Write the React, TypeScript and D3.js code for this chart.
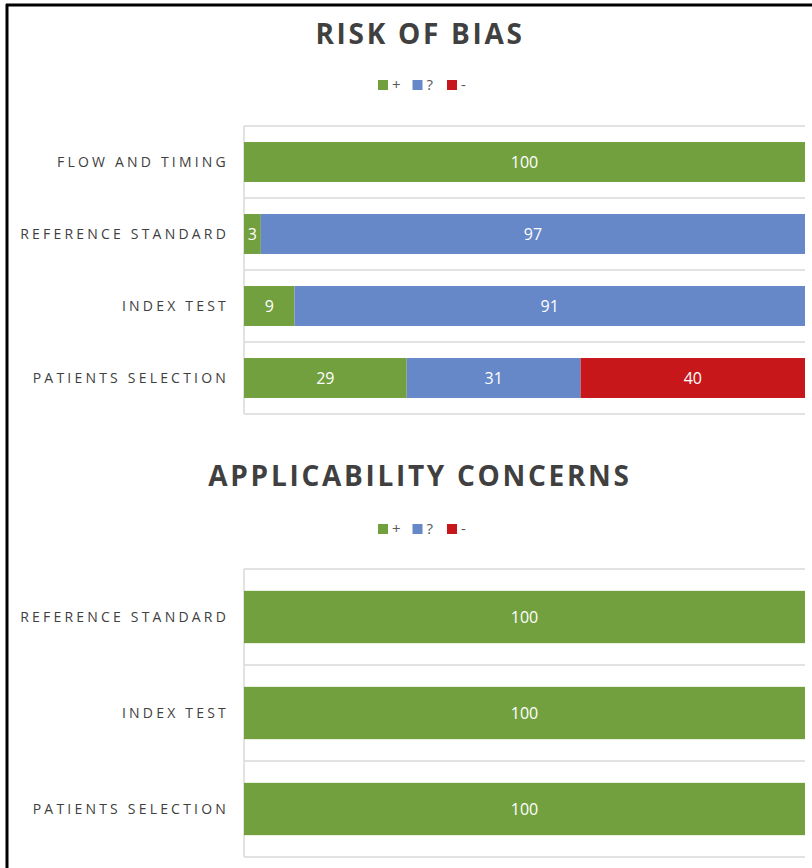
import React from 'react';
import * as d3 from 'd3';

const seriesKeys = ['+', '?', '-'];
const seriesColors = ['#73a03f', '#6687c8', '#c8171b'];

const biasCategories = ['FLOW AND TIMING', 'REFERENCE STANDARD', 'INDEX TEST', 'PATIENTS SELECTION'];
const biasPlus = [100, 3, 9, 29];
const biasUnclear = [0, 97, 91, 31];
const biasMinus = [0, 0, 0, 40];

const applCategories = ['REFERENCE STANDARD', 'INDEX TEST', 'PATIENTS SELECTION'];
const applPlus = [100, 100, 100];
const applUnclear = [0, 0, 0];
const applMinus = [0, 0, 0];

const W = 812;
const H = 868;
const plotLeft = 244;
const plotRight = 805;
const labelFont = "'Open Sans', sans-serif";

type PanelProps = {
  title: string;
  titleY: number;
  legendY: number;
  top: number;
  bottom: number;
  categories: string[];
  plus: number[];
  unclear: number[];
  minus: number[];
  padding: number;
};

function Panel(props: PanelProps) {
  const { title, titleY, legendY, top, bottom, categories, plus, unclear, minus, padding } = props;

  const rows = categories.map((c, i) => ({ cat: c, '+': plus[i], '?': unclear[i], '-': minus[i] }));
  const stacked = d3.stack<any>().keys(seriesKeys)(rows);

  const x = d3.scaleLinear().domain([0, 100]).range([plotLeft, plotRight]);
  const y = d3.scaleBand<string>()
    .domain(categories)
    .range([top, bottom])
    .paddingInner(padding)
    .paddingOuter(padding / 2);
  const color = d3.scaleOrdinal<string, string>().domain(seriesKeys).range(seriesColors);

  const step = y.step();
  const gridYs = d3.range(categories.length + 1).map((i) => top + i * step);

  // legend: square + label, evenly spaced
  const legendItems = seriesKeys.map((k, i) => ({ key: k, x0: 378 + i * 34.5 }));

  return (
    <g>
      <text x={420} y={titleY} textAnchor="middle" fontFamily={labelFont} fontWeight={700}
        fontSize={28} letterSpacing={2.7} fill="#404040">{title}</text>

      {legendItems.map((it) => (
        <g key={it.key}>
          <rect x={it.x0} y={legendY - 5} width={10} height={10} fill={color(it.key)} />
          <text x={it.x0 + 14} y={legendY} dy="0.35em" fontFamily={labelFont} fontSize={15}
            fill="#595959">{it.key}</text>
        </g>
      ))}

      {gridYs.map((gy, i) => (
        <line key={i} x1={plotLeft} x2={plotRight} y1={gy} y2={gy} stroke="#d9d9d9" strokeWidth={1.5} />
      ))}
      <line x1={plotLeft} x2={plotLeft} y1={top} y2={bottom} stroke="#d9d9d9" strokeWidth={1.5} />

      {stacked.map((s) => (
        <g key={s.key} fill={color(s.key)}>
          {s.map((d, i) => {
            const w = x(d[1]) - x(d[0]);
            if (w <= 0) return null;
            return <rect key={i} x={x(d[0])} y={y(categories[i])!} width={w} height={y.bandwidth()} />;
          })}
        </g>
      ))}

      {stacked.map((s) => (
        <g key={'t' + s.key}>
          {s.map((d, i) => {
            const v = d[1] - d[0];
            if (v <= 0) return null;
            return (
              <text key={i} x={(x(d[0]) + x(d[1])) / 2} y={y(categories[i])! + y.bandwidth() / 2}
                dy="0.35em" textAnchor="middle" fontFamily={labelFont} fontSize={16} fill="#ffffff">{v}</text>
            );
          })}
        </g>
      ))}

      {categories.map((c) => (
        <text key={c} x={229} y={y(c)! + y.bandwidth() / 2} dy="0.35em" textAnchor="end"
          fontFamily={labelFont} fontSize={14} letterSpacing={3.2} fill="#404040">{c}</text>
      ))}
    </g>
  );
}

export default function App() {
  return (
    <svg width={W} height={H} style={{ position: 'absolute', left: 0, top: 0, background: '#fff' }}>
      <rect x={0} y={0} width={W} height={H} fill="#fff" />
      <line x1={7} x2={7} y1={4} y2={H} stroke="#000" strokeWidth={3} />
      <line x1={6} x2={W} y1={5} y2={5} stroke="#000" strokeWidth={3} />
      <Panel title="RISK OF BIAS" titleY={44} legendY={85} top={126} bottom={414}
        categories={biasCategories} plus={biasPlus} unclear={biasUnclear} minus={biasMinus} padding={0.445} />
      <Panel title="APPLICABILITY CONCERNS" titleY={486} legendY={529} top={569} bottom={857}
        categories={applCategories} plus={applPlus} unclear={applUnclear} minus={applMinus} padding={0.455} />
    </svg>
  );
}
